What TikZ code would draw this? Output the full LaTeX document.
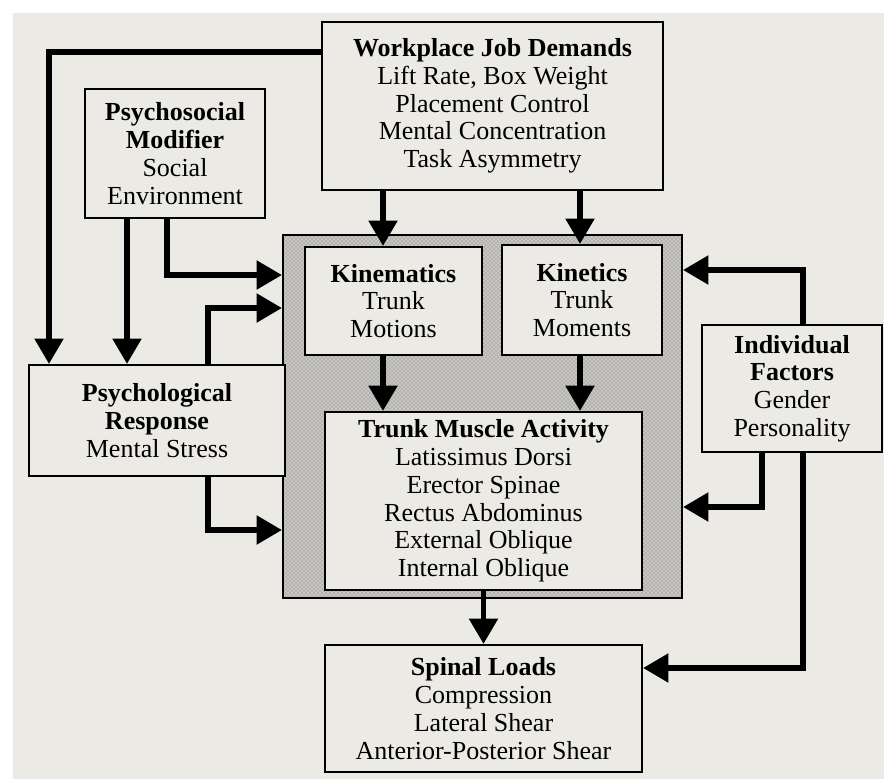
\documentclass[tikz,border=0pt]{standalone}
\usepackage{fontspec}
\setmainfont{Liberation Serif}
\usepackage{tikz}
\usetikzlibrary{arrows.meta,patterns}
\usepackage{xcolor}
\definecolor{paper}{RGB}{236,234,228}
\definecolor{speck}{RGB}{200,198,192}

\begin{document}
\begin{tikzpicture}[x=0.75pt,y=-0.75pt,
     box/.style={draw,line width=1.6pt,fill=paper,align=center,inner sep=2pt,
       font=\fontsize{19.5}{20.8}\selectfont},
     stipple/.style={draw,line width=1.6pt,preaction={fill=speck},
       pattern=crosshatch dots,pattern color=black!55},
     arr/.style={line width=4pt,-{Triangle[length=19pt,width=21pt]}}]
    \useasboundingbox (0,0) rectangle (884,779);
    \fill[white] (0,0) rectangle (884,779);
    \fill[paper] (13,13) rectangle (884,779);
    % shaded core around the body response
    \node[stipple,minimum width=299.25pt,minimum height=272.25pt] (core) at (482.5,416.5) {};
    \node[box,minimum width=255.75pt,minimum height=126pt] (work) at (492.5,106)
      {\textbf{Workplace Job Demands}\\Lift Rate, Box Weight\\Placement Control\\Mental Concentration\\Task Asymmetry};
    \node[box,minimum width=135pt,minimum height=96.75pt] (psysoc) at (175,153.5)
      {\textbf{Psychosocial}\\\textbf{Modifier}\\Social\\Environment};
    \node[box,minimum width=132.75pt,minimum height=81pt] (kinem) at (393.5,301)
      {\textbf{Kinematics}\\Trunk\\Motions};
    \node[box,minimum width=120pt,minimum height=82.5pt] (kinet) at (582,300)
      {\textbf{Kinetics}\\Trunk\\Moments};
    \node[box,minimum width=237.75pt,minimum height=133.5pt] (trunk) at (483.5,501)
      {\textbf{Trunk Muscle Activity}\\Latissimus Dorsi\\Erector Spinae\\Rectus Abdominus\\External Oblique\\Internal Oblique};
    \node[box,minimum width=192pt,minimum height=83.25pt] (psyresp) at (157,420.5)
      {\textbf{Psychological}\\\textbf{Response}\\Mental Stress};
    \node[box,minimum width=135pt,minimum height=95.25pt] (indiv) at (792,388.5)
      {\textbf{Individual}\\\textbf{Factors}\\Gender\\Personality};
    \node[box,minimum width=237.75pt,minimum height=95.25pt] (spinal) at (483.5,708.5)
      {\textbf{Spinal Loads}\\Compression\\Lateral Shear\\Anterior-Posterior Shear};
    % left side
    \draw[arr] (work.west |- 0,52) -| (49,0 |- psyresp.north);
    \draw[arr] (127,0 |- psysoc.south) -- (127,0 |- psyresp.north);
    \draw[arr] (167,0 |- psysoc.south) |- (core.west |- 0,275);
    \draw[arr] (208,0 |- psyresp.north) |- (core.west |- 0,308);
    \draw[arr] (208,0 |- psyresp.south) |- (core.west |- 0,530);
    % middle
    \draw[arr] (383,0 |- work.south) -- (383,0 |- kinem.north);
    \draw[arr] (580,0 |- work.south) -- (580,0 |- kinet.north);
    \draw[arr] (383,0 |- kinem.south) -- (383,0 |- trunk.north);
    \draw[arr] (580,0 |- kinet.south) -- (580,0 |- trunk.north);
    \draw[arr] (trunk.south) -- (spinal.north);
    % right side
    \draw[arr] (803,0 |- indiv.north) |- (core.east |- 0,270);
    \draw[arr] (762,0 |- indiv.south) |- (core.east |- 0,507);
    \draw[arr] (803,0 |- indiv.south) |- (spinal.east |- 0,668);
  \end{tikzpicture}
\end{document}
